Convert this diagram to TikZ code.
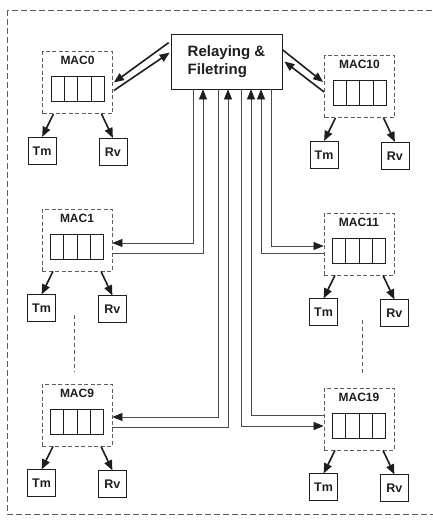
\documentclass[tikz,border=0pt]{standalone}
\usepackage{fontspec}
\setmainfont{Liberation Sans}
\usetikzlibrary{positioning, arrows.meta, calc}
\definecolor{ink}{HTML}{1E1E1E}
\definecolor{wirecol}{HTML}{4A4A4A}
\definecolor{dashcol}{HTML}{5E5E5E}

\begin{document}
\begin{tikzpicture}[
  x=1pt, y=-1pt,
  every node/.style={font=\bfseries, text=ink},
  >={Triangle[length=10pt, width=8pt]},
  outer/.style={draw=dashcol, line width=0.8pt, dash pattern=on 6pt off 3pt},
  macbox/.style={
    draw=dashcol, line width=0.8pt, dash pattern=on 4pt off 2.5pt,
    minimum width=70pt, minimum height=62pt, inner sep=0pt
  },
  maclabel/.style={font=\bfseries\fontsize{12}{14}\selectfont, inner sep=2pt},
  reg/.style={draw=ink, line width=0.7pt, minimum width=53pt, minimum height=25pt, inner sep=0pt},
  term/.style={
    draw=ink, line width=0.7pt, minimum width=28pt, minimum height=27pt,
    inner sep=0pt, font=\bfseries\fontsize{12.5}{14}\selectfont
  },
  relaybox/.style={
    draw=ink, line width=0.7pt, minimum width=111pt, minimum height=55pt,
    align=left, font=\bfseries\fontsize{15}{18}\selectfont
  },
  bigarrow/.style={->, line width=1.6pt, draw=ink},
  wire/.style={line width=0.7pt, draw=wirecol},
  wirearrow/.style={wire, -{Triangle[length=10pt, width=8pt, color=ink]}}
]
\useasboundingbox (0,0) rectangle (432,522);

% Outer frame
\draw[outer] (7,10) rectangle (440,514);

% Relaying block
\node[relaybox] (relay) at (226.5,61.5) {Relaying \&\\Filetring};

% MAC blocks
\node[macbox] (mac0)  at (77.5,82.5) {};
\node[macbox] (mac10) at (359.5,86.5) {};
\node[macbox] (mac1)  at (77,240) {};
\node[macbox] (mac11) at (359,244) {};
\node[macbox] (mac9)  at (77,415) {};
\node[macbox] (mac19) at (359,419) {};

% Label, queue, Tm and Rv of each MAC
\foreach \m/\t in {mac0/MAC0, mac10/MAC10, mac1/MAC1, mac11/MAC11, mac9/MAC9, mac19/MAC19} {
  \node[maclabel, below=3pt of \m.north] (\m-t) {\t};
  \node[reg] (\m-q) at ($(\m.center)+(0,6.5)$) {};
  \foreach \i in {1,2,3}
    \draw[ink, line width=0.7pt] ($(\m-q.north west)!\i/4!(\m-q.north east)$) -- ($(\m-q.south west)!\i/4!(\m-q.south east)$);
  \node[term, below=23pt of \m.south west] (\m-tm) {Tm};
  \node[term, below=24pt of \m.south east] (\m-rv) {Rv};
  \draw[bigarrow] ($(\m.south)+(-24,0)$) -- (\m-tm.north);
  \draw[bigarrow] ($(\m.south)+(24,0)$) -- (\m-rv.north);
}

% MAC0 and MAC10 links
\draw[bigarrow] ($(relay.north west)+(-2,9)$) -- ($(mac0.east)+(1,0)$);
\draw[bigarrow] ($(mac0.east)+(1,8)$) -- ($(relay.north west)+(-1,19)$);
\draw[bigarrow] ($(relay.north east)+(0,16)$) -- ($(mac10.west)+(-1,-4.5)$);
\draw[bigarrow] ($(mac10.west)+(0,5.5)$) -- ($(relay.east)+(2,0)$);

% Vertical links
\draw[wirearrow] ($(relay.south)+(-33.5,0)$) |- ($(mac1.east)+(0,3)$);
\draw[wirearrow] ($(mac1.east)+(0,13)$) -| ($(relay.south)+(-23.5,0)$);
\draw[wirearrow] ($(relay.south)+(-8.5,0)$) |- ($(mac9.east)+(0,2)$);
\draw[wirearrow] ($(mac9.east)+(0,12)$) -| ($(relay.south)+(1.5,0)$);
\draw[wirearrow] ($(relay.south)+(14.5,0)$) |- ($(mac19.west)+(0,7)$);
\draw[wirearrow] ($(mac19.west)+(0,-4)$) -| ($(relay.south)+(24.5,0)$);
\draw[wirearrow] ($(mac11.west)+(0,9)$) -| ($(relay.south)+(34.5,0)$);
\draw[wirearrow] ($(relay.south)+(44.5,0)$) |- ($(mac11.west)+(0,2)$);

% Omitted MACs
\draw[outer, dash pattern=on 4pt off 3pt] ($(mac1.south)+(-3,44)$) -- ($(mac9.north)+(-3,-12)$);
\draw[outer, dash pattern=on 4pt off 3pt] ($(mac11.south)+(3,45)$) -- ($(mac19.north)+(3,-13)$);

\end{tikzpicture}
\end{document}
